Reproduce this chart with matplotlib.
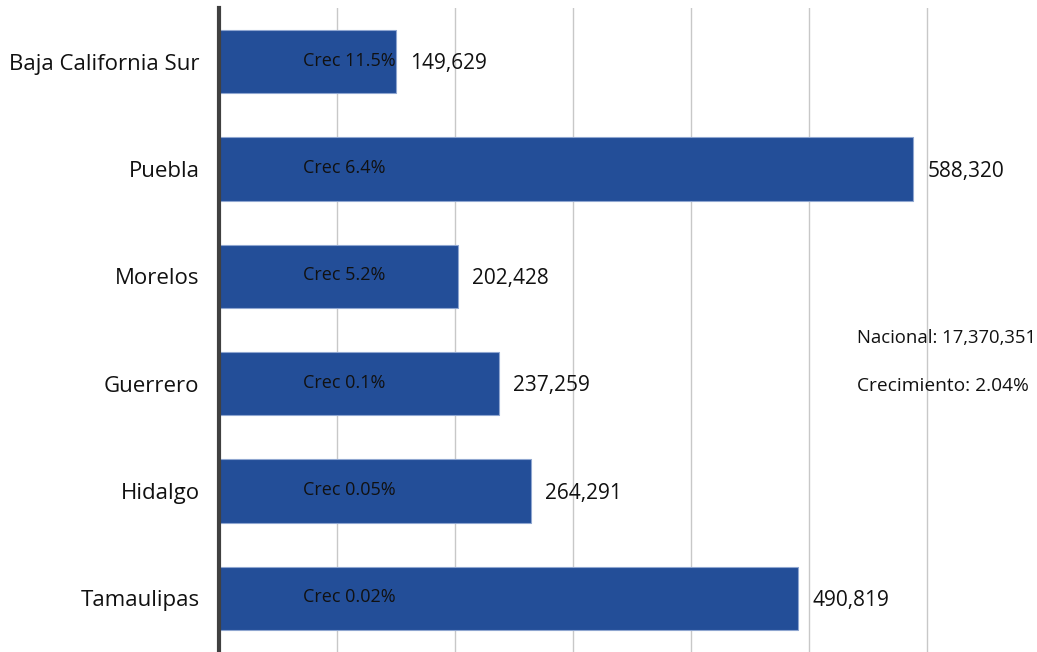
import matplotlib
matplotlib.use('Agg')
import matplotlib.pyplot as plt
from matplotlib.ticker import MultipleLocator

estados = ['Baja California Sur', 'Puebla', 'Morelos', 'Guerrero', 'Hidalgo', 'Tamaulipas']
valores = [149629, 588320, 202428, 237259, 264291, 490819]
crecimiento = ['Crec 11.5%', 'Crec 6.4%', 'Crec 5.2%', 'Crec 0.1%', 'Crec 0.05%', 'Crec 0.02%']
nacional = 'Nacional: 17,370,351'
crec_nacional = 'Crecimiento: 2.04%'

plt.rcParams['font.family'] = ['Open Sans', 'DejaVu Sans']

fig = plt.figure(figsize=(10.37, 6.52), dpi=100)
ax = fig.add_axes([219 / 1037, 0, 1 - 219 / 1037, 1 - 8 / 652])

y = list(range(len(estados)))
ax.barh(y, valores, height=0.59, color='#234E98', edgecolor='#8FA6D0', linewidth=0.8, zorder=3)

for i, v in enumerate(valores):
    ax.text(v + 12000, i + 0.02, f'{v:,}', va='center', ha='left', fontsize=15, color='#111111')
    ax.text(71000, i - 0.01, crecimiento[i], va='center', ha='left', fontsize=13, color='#111111', zorder=4)

ax.set_xlim(0, 693000)
ax.set_ylim(len(estados) - 0.5, -0.5)
ax.set_yticks(y)
ax.set_yticklabels(estados, fontsize=16, color='#111111')
ax.xaxis.set_major_locator(MultipleLocator(100000))
ax.tick_params(axis='x', length=0, labelbottom=False)
ax.tick_params(axis='y', length=0, pad=14)
ax.grid(axis='x', color='#C8C8C8', linewidth=1, zorder=0)

for s in ['top', 'right', 'bottom']:
    ax.spines[s].set_visible(False)
ax.spines['left'].set_color('#404040')
ax.spines['left'].set_linewidth(3)
ax.spines['left'].set_zorder(5)

fig.text(857 / 1037, 1 - 338 / 652, nacional, ha='left', va='center', fontsize=13.3, color='#111111')
fig.text(857 / 1037, 1 - 386 / 652, crec_nacional, ha='left', va='center', fontsize=13.8, color='#111111')

fig.savefig('out.png', dpi=100)
